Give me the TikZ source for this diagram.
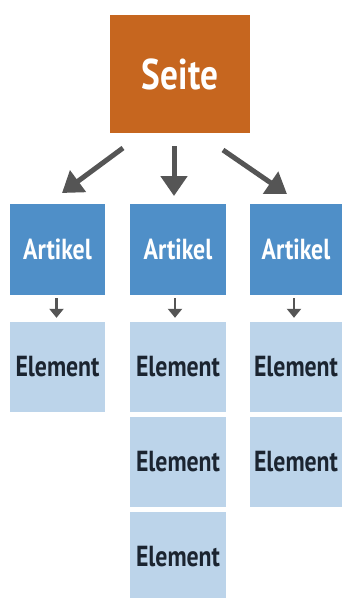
\documentclass[tikz,border=0pt]{standalone}
\usepackage{fontspec}
\setmainfont{PT Sans}[FakeStretch=0.82]
\usetikzlibrary{arrows.meta}
\definecolor{seitec}{HTML}{C6661F}
\definecolor{artc}{HTML}{4F8FC8}
\definecolor{elc}{HTML}{BCD4EA}
\definecolor{arrc}{HTML}{555555}
\definecolor{elt}{HTML}{1B2430}
\tikzset{
  seitebox/.style={fill=seitec, minimum width=140pt, minimum height=118pt, inner sep=0pt, text=white, font=\bfseries\fontsize{43}{43}\selectfont},
  artbox/.style={fill=artc, minimum height=91pt, inner sep=0pt, text=white, font=\bfseries\fontsize{29}{29}\selectfont},
  elbox/.style={fill=elc, minimum height=90pt, inner sep=0pt, text=elt, font=\bfseries\fontsize{29}{29}\selectfont},
  bigarr/.style={draw=arrc, line width=5pt, -{Triangle[width=26pt,length=20pt]}},
  smallarr/.style={draw=arrc, line width=2.5pt, -{Triangle[width=14pt,length=9pt]}}
}
\begin{document}
\begin{tikzpicture}[x=1pt,y=-1pt]
\useasboundingbox[fill=white] (0,0) rectangle (342,598);
\node[seitebox] (seite) at (180,74) {Seite};
\node[artbox, minimum width=95pt] (a1) at (57.5,249.5) {Artikel};
\node[artbox, minimum width=96pt] (a2) at (178,249.5) {Artikel};
\node[artbox, minimum width=92pt] (a3) at (296,249.5) {Artikel};
\node[elbox, minimum width=95pt] (e1) at (57.5,367) {Element};
\node[elbox, minimum width=96pt] (e2a) at (178,367) {Element};
\node[elbox, minimum width=96pt] (e2b) at (178,462) {Element};
\node[elbox, minimum width=96pt] (e2c) at (178,557) {Element};
\node[elbox, minimum width=92pt] (e3a) at (296,367) {Element};
\node[elbox, minimum width=92pt] (e3b) at (296,462) {Element};
\coordinate (s1) at (123,148); \coordinate (t1) at (62,193);
\coordinate (s2) at (174,146); \coordinate (t2) at (174,196);
\coordinate (s3) at (223,150); \coordinate (t3) at (287,194);
\draw[bigarr] (s1) -- (t1);
\draw[bigarr] (s2) -- (t2);
\draw[bigarr] (s3) -- (t3);
\draw[smallarr] ([xshift=-1pt,yshift=-3pt]a1.south) -- ([xshift=-1pt,yshift=4pt]e1.north);
\draw[smallarr] ([xshift=-3pt,yshift=-3pt]a2.south) -- ([xshift=-3pt,yshift=4pt]e2a.north);
\draw[smallarr] ([xshift=-2pt,yshift=-3pt]a3.south) -- ([xshift=-2pt,yshift=4pt]e3a.north);
\end{tikzpicture}
\end{document}
